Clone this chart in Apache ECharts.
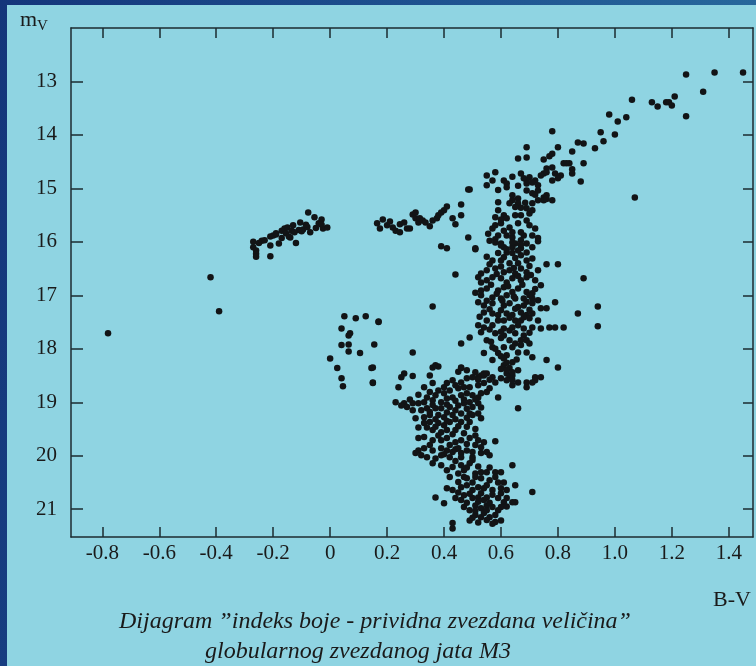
<!DOCTYPE html>
<html><head><meta charset="utf-8">
<script src="https://cdn.jsdelivr.net/npm/echarts@6/dist/echarts.min.js"></script>
<style>
html,body{margin:0;padding:0;width:756px;height:666px;overflow:hidden;}
body{background:linear-gradient(100deg,#14357a 0%,#1d4f8e 45%,#2b6fa0 100%);position:relative;}
#panel{position:absolute;left:7px;top:5px;width:749px;height:661px;background:#8fd4e2;}
#chart{position:absolute;left:0;top:0;width:756px;height:666px;}
</style></head><body><div id="panel"></div><div id="chart"></div>
<script>
// tick labels
const xTicks = [-0.8, -0.6, -0.4, -0.2, 0, 0.2, 0.4, 0.6, 0.8, 1.0, 1.2, 1.4];
const yTicks = [13, 14, 15, 16, 17, 18, 19, 20, 21];

// [B-V, m_V]
const blueHB = [[-0.27,16.0],[-0.27,16.1],[-0.26,16.16],[-0.26,16.22],[-0.26,16.28],[-0.25,16.02],[-0.24,15.98],[-0.23,15.97],[-0.21,16.07],[-0.21,15.9],[-0.21,16.27],[-0.2,15.88],[-0.19,15.86],[-0.19,15.84],[-0.17,15.93],[-0.17,15.79],[-0.16,15.75],[-0.155,15.84],[-0.15,15.73],[-0.14,15.92],[-0.135,15.79],[-0.13,15.69],[-0.12,16.02],[-0.11,15.78],[-0.105,15.64],[-0.095,15.77],[-0.08,15.72],[-0.077,15.45],[-0.07,15.82],[-0.055,15.54],[-0.05,15.74],[-0.04,15.65],[-0.03,15.58],[-0.025,15.75],[-0.01,15.73],[-0.18,16.03],[-0.145,15.9],[-0.125,15.82],[-0.1,15.8],[-0.085,15.68],[-0.03,15.68]];

const redHB = [[0.165,15.65],[0.175,15.75],[0.185,15.58],[0.2,15.69],[0.21,15.62],[0.22,15.73],[0.23,15.79],[0.245,15.82],[0.245,15.67],[0.26,15.64],[0.27,15.75],[0.28,15.75],[0.29,15.49],[0.3,15.45],[0.3,15.56],[0.31,15.64],[0.315,15.56],[0.325,15.6],[0.335,15.64],[0.35,15.71],[0.36,15.6],[0.375,15.56],[0.38,15.5],[0.39,15.45],[0.4,15.41],[0.41,15.34],[0.43,15.56],[0.44,15.67],[0.46,15.3],[0.46,15.5],[0.485,15.02],[0.485,15.92],[0.39,16.08],[0.41,16.12],[0.51,16.12],[0.44,16.61],[0.36,17.21],[0.17,17.5]];

const gapStars = [[0.05,17.39],[0.09,17.43],[0.125,17.39],[0.17,17.49],[0.04,17.62],[0.07,17.71],[0.065,17.75],[0.04,17.93],[0.065,17.92],[0.065,18.05],[0.105,18.08],[0.155,17.92],[0.0,18.18],[0.025,18.36],[0.04,18.55],[0.045,18.7],[0.145,18.36],[0.15,18.63],[-0.78,17.71],[-0.42,16.66],[-0.39,17.3]];

const giantTip = [[1.25,12.87],[1.35,12.83],[1.45,12.83],[1.31,13.19],[1.13,13.39],[1.15,13.47],[1.18,13.39],[1.19,13.39],[1.2,13.45],[1.21,13.28],[1.06,13.34],[1.25,13.65],[0.98,13.62],[1.01,13.75],[1.04,13.67],[0.95,13.95],[1.0,13.99],[0.96,14.12],[1.07,15.17]];

const upperGiants = [[0.78,13.93],[0.69,14.23],[0.66,14.44],[0.69,14.42],[0.75,14.46],[0.77,14.4],[0.78,14.35],[0.8,14.23],[0.85,14.31],[0.87,14.14],[0.89,14.16],[0.93,14.25],[0.89,14.53],[0.82,14.53],[0.84,14.53],[0.85,14.64],[0.85,14.72],[0.88,14.87],[0.76,14.63],[0.78,14.61],[0.75,14.72],[0.76,14.7],[0.79,14.72],[0.81,14.76],[0.8,14.81],[0.78,14.85],[0.74,14.76],[0.72,14.85],[0.7,14.79],[0.69,14.85],[0.67,14.72],[0.68,14.81],[0.69,14.91],[0.71,14.89],[0.73,14.94],[0.58,14.7],[0.55,14.76],[0.57,14.85],[0.55,14.94],[0.61,14.85],[0.62,14.91],[0.64,14.78],[0.49,15.02],[0.69,15.04],[0.71,15.09],[0.73,15.04],[0.75,15.17],[0.76,15.13],[0.75,15.22],[0.76,15.2],[0.78,15.22],[0.73,15.22],[0.71,15.28],[0.69,15.37],[0.7,15.47],[0.64,15.13],[0.66,15.19],[0.64,15.22],[0.63,15.28],[0.66,15.28],[0.67,15.36],[0.59,15.26],[0.59,15.41],[0.61,15.5],[0.58,15.54],[0.62,15.56],[0.65,15.5],[0.67,15.5],[0.69,15.6],[0.71,15.41],[0.7,15.69],[0.72,15.75],[0.58,15.69],[0.6,15.65],[0.57,15.75],[0.61,15.79],[0.63,15.73],[0.66,15.65],[0.67,15.82],[0.68,15.88],[0.71,15.88],[0.73,15.93],[0.59,15.88],[0.62,15.88],[0.64,15.92],[0.65,16.03],[0.67,15.97],[0.69,16.03],[0.6,16.03],[0.58,15.95],[0.61,16.1],[0.64,16.1],[0.67,16.12],[0.83,14.53],[0.555,15.85],[0.64,15.82],[0.6,15.58],[0.65,15.35],[0.685,15.27],[0.72,15.12],[0.62,14.98],[0.66,14.95],[0.59,15.03]];

const lowerGiants = [[0.51,16.14],[0.58,16.01],[0.6,16.07],[0.64,16.01],[0.67,16.05],[0.73,15.99],[0.59,16.21],[0.62,16.2],[0.64,16.21],[0.67,16.25],[0.69,16.2],[0.57,16.35],[0.6,16.35],[0.63,16.4],[0.66,16.4],[0.69,16.35],[0.71,16.31],[0.76,16.42],[0.8,16.42],[0.53,16.59],[0.55,16.53],[0.58,16.5],[0.61,16.57],[0.63,16.53],[0.65,16.59],[0.67,16.5],[0.69,16.57],[0.73,16.53],[0.53,16.76],[0.55,16.72],[0.57,16.66],[0.6,16.68],[0.62,16.76],[0.64,16.68],[0.67,16.72],[0.69,16.66],[0.72,16.72],[0.74,16.81],[0.53,16.91],[0.55,16.87],[0.59,16.91],[0.61,16.85],[0.64,16.94],[0.66,16.87],[0.69,16.94],[0.71,16.96],[0.53,17.0],[0.57,17.04],[0.6,17.06],[0.62,17.0],[0.65,17.06],[0.68,17.06],[0.71,17.06],[0.73,17.09],[0.79,17.13],[0.52,17.13],[0.54,17.19],[0.57,17.15],[0.61,17.19],[0.63,17.15],[0.66,17.22],[0.68,17.19],[0.71,17.15],[0.74,17.24],[0.76,17.24],[0.87,17.34],[0.54,17.32],[0.57,17.34],[0.59,17.37],[0.62,17.34],[0.64,17.37],[0.67,17.32],[0.69,17.37],[0.71,17.34],[0.55,17.47],[0.59,17.47],[0.61,17.47],[0.65,17.47],[0.67,17.47],[0.7,17.43],[0.73,17.47],[0.52,17.56],[0.54,17.6],[0.57,17.56],[0.61,17.62],[0.64,17.6],[0.66,17.56],[0.68,17.62],[0.71,17.6],[0.74,17.62],[0.77,17.6],[0.79,17.6],[0.82,17.6],[0.53,17.69],[0.58,17.71],[0.61,17.75],[0.65,17.71],[0.68,17.75],[0.49,17.79],[0.55,17.84],[0.6,17.8],[0.63,17.84],[0.67,17.84],[0.69,17.84],[0.46,17.9],[0.57,17.97],[0.61,17.97],[0.64,17.97],[0.67,17.93],[0.7,17.9],[0.54,18.08],[0.59,18.08],[0.62,18.12],[0.66,18.07],[0.69,18.07],[0.71,18.16],[0.57,18.21],[0.61,18.18],[0.64,18.25],[0.76,18.21],[0.46,18.35],[0.61,18.31],[0.63,18.36],[0.8,18.35],[0.62,18.46],[0.64,18.5],[0.52,18.53],[0.54,18.5],[0.72,18.53],[0.74,18.53],[0.89,16.68],[0.94,17.21],[0.94,17.58],
  [0.56,15.98],[0.62,16.14],[0.66,16.16],[0.71,16.1],[0.55,16.28],[0.61,16.29],[0.65,16.3],[0.7,16.45],[0.56,16.42],[0.6,16.46],[0.645,16.49],[0.52,16.66],[0.585,16.6],[0.66,16.64],[0.705,16.62],[0.565,16.8],[0.625,16.83],[0.675,16.8],[0.72,16.88],[0.51,16.95],[0.585,16.97],[0.645,17.02],[0.7,17.0],[0.55,17.1],[0.605,17.1],[0.69,17.12],[0.56,17.26],[0.6,17.28],[0.65,17.25],[0.7,17.27],[0.525,17.4],[0.63,17.42],[0.68,17.41],[0.56,17.64],[0.6,17.68],[0.63,17.66],[0.7,17.7],[0.565,17.87],[0.65,17.9],[0.58,18.0],[0.6,18.14],[0.655,18.2],[0.62,18.26],[0.6,18.38],[0.66,18.4],[0.63,18.52]];

const subGiants = [[0.15,18.35],[0.15,18.64],[0.26,18.46],[0.25,18.53],[0.29,18.51],[0.24,18.72],[0.36,18.35],[0.38,18.33],[0.46,18.36],[0.35,18.5],[0.36,18.64],[0.41,18.64],[0.43,18.59],[0.46,18.63],[0.48,18.55],[0.5,18.53],[0.53,18.5],[0.54,18.46],[0.35,18.81],[0.38,18.78],[0.4,18.83],[0.42,18.78],[0.45,18.74],[0.47,18.72],[0.49,18.72],[0.52,18.68],[0.54,18.64],[0.26,19.02],[0.27,19.09],[0.29,19.15],[0.31,19.02],[0.33,19.0],[0.34,18.91],[0.36,18.96],[0.39,19.0],[0.41,18.93],[0.43,18.91],[0.46,18.87],[0.48,18.83],[0.5,18.87],[0.53,18.83],[0.55,18.81],[0.32,19.15],[0.34,19.11],[0.37,19.11],[0.39,19.11],[0.42,19.09],[0.45,19.06],[0.47,19.02],[0.49,19.0],[0.52,19.02],[0.33,19.28],[0.35,19.24],[0.38,19.24],[0.4,19.28],[0.43,19.24],[0.46,19.21],[0.49,19.21],[0.52,19.21],[0.5,19.09],[0.31,19.47],[0.33,19.39],[0.35,19.37],[0.38,19.39],[0.4,19.43],[0.42,19.37],[0.46,19.37],[0.33,19.65],[0.36,19.52],[0.39,19.56],[0.41,19.52],[0.44,19.52],[0.49,19.37],[0.49,19.67],[0.52,19.71],[0.54,19.75],[0.36,19.71],[0.39,19.71],[0.41,19.67],[0.44,19.75],[0.46,19.71],[0.31,19.9],[0.32,19.99],[0.34,20.03],[0.36,19.9],[0.39,19.86],[0.41,19.9],[0.43,19.93],[0.46,19.95],[0.48,19.9],[0.5,19.93],[0.53,19.95],[0.55,19.93],[0.51,19.8],[0.33,19.86],[0.55,18.46],[0.57,18.53],[0.58,18.63],[0.56,18.74],[0.52,18.91],[0.62,18.4],[0.64,18.44],[0.62,18.59],[0.64,18.68],[0.64,18.59],[0.66,18.63],[0.69,18.63],[0.69,18.72],[0.72,18.59],[0.59,18.91],[0.66,19.11],[0.5,19.24],[0.53,19.3],[0.58,19.73],[0.53,19.84],[0.5,20.03],[0.56,19.99],[0.29,18.07],[0.37,18.31],[0.51,18.44],[0.71,18.63],[0.25,19.06],[0.29,19.02],[0.3,19.3],[0.34,19.47],[0.31,19.67],[0.3,19.95],[0.37,20.05],
  [0.45,18.43],[0.48,18.4],[0.52,18.58],[0.44,18.68],[0.4,18.72],[0.37,18.87],[0.44,18.97],[0.47,18.95],[0.51,18.95],[0.41,19.04],[0.36,19.05],[0.44,19.15],[0.48,19.12],[0.53,19.1],[0.35,19.18],[0.41,19.19],[0.44,19.32],[0.48,19.29],[0.37,19.32],[0.41,19.35],[0.45,19.45],[0.48,19.46],[0.51,19.5],[0.37,19.46],[0.43,19.6],[0.47,19.58],[0.51,19.62],[0.38,19.62],[0.35,19.8],[0.42,19.8],[0.48,19.78],[0.44,19.88],[0.4,19.97],[0.5,20.08],[0.33,18.72],[0.31,18.86],[0.28,18.95],[0.23,19.0],[0.56,18.58],[0.6,18.55]];

const mainSeq = [[0.39,19.99],[0.42,20.03],[0.45,19.86],[0.46,20.03],[0.36,20.14],[0.39,20.18],[0.41,20.27],[0.43,20.21],[0.46,20.18],[0.47,20.27],[0.49,20.14],[0.51,20.33],[0.53,20.31],[0.55,20.31],[0.58,20.31],[0.6,20.31],[0.64,20.18],[0.42,20.4],[0.45,20.33],[0.47,20.4],[0.48,20.42],[0.5,20.5],[0.53,20.42],[0.56,20.46],[0.59,20.5],[0.41,20.61],[0.43,20.64],[0.46,20.59],[0.48,20.55],[0.5,20.64],[0.52,20.59],[0.54,20.61],[0.57,20.64],[0.6,20.61],[0.62,20.64],[0.65,20.55],[0.71,20.68],[0.37,20.78],[0.4,20.89],[0.44,20.79],[0.46,20.83],[0.47,20.74],[0.5,20.79],[0.52,20.78],[0.54,20.83],[0.55,20.78],[0.59,20.79],[0.61,20.87],[0.62,20.79],[0.65,20.87],[0.47,20.96],[0.49,21.02],[0.51,20.93],[0.53,20.98],[0.55,20.93],[0.57,20.96],[0.6,20.96],[0.49,21.21],[0.51,21.11],[0.53,21.15],[0.54,21.07],[0.56,21.15],[0.58,21.11],[0.6,21.21],[0.58,21.24],[0.43,21.26],[0.43,21.36],[0.64,20.87],
  [0.44,20.1],[0.48,20.22],[0.52,20.2],[0.56,20.22],[0.45,20.49],[0.51,20.4],[0.55,20.55],[0.58,20.4],[0.61,20.5],[0.45,20.69],[0.49,20.71],[0.53,20.7],[0.57,20.73],[0.6,20.7],[0.48,20.88],[0.52,20.86],[0.56,20.88],[0.59,21.02],[0.51,21.03],[0.55,21.02],[0.62,20.95],[0.5,21.16],[0.55,21.2],[0.57,21.27],[0.52,21.25]];

const allStars = [].concat(blueHB, redHB, gapStars, giantTip, upperGiants, lowerGiants, subGiants, mainSeq);

const chart = echarts.init(document.getElementById('chart'), null, {renderer: 'canvas'});
const axisColor = '#1d2b31';
const serif = '"Liberation Serif", "DejaVu Serif", serif';
const xMin = -0.91, xMax = 1.485, yMin = 12.0, yMax = 21.52;
const lineStyle = {color: axisColor, width: 1.5};
function xFmt(v){ return v === 0 ? '0' : v.toFixed(1); }

chart.setOption({
  animation: false,
  grid: {left: 71, right: 3, top: 28, bottom: 129},
  xAxis: [
    {type: 'value', min: xMin, max: xMax, position: 'bottom',
     axisLine: {show: true, onZero: false, lineStyle},
     axisTick: {show: true, inside: true, length: 10, customValues: xTicks, lineStyle},
     axisLabel: {show: true, customValues: xTicks, formatter: xFmt, fontFamily: serif, fontSize: 21, color: '#1a1a1a', margin: 6},
     splitLine: {show: false}},
    {type: 'value', min: xMin, max: xMax, position: 'top',
     axisLine: {show: true, onZero: false, lineStyle},
     axisTick: {show: true, inside: true, length: 10, customValues: xTicks, lineStyle},
     axisLabel: {show: false},
     splitLine: {show: false}}
  ],
  yAxis: [
    {type: 'value', min: yMin, max: yMax, inverse: true, position: 'left',
     axisLine: {show: true, onZero: false, lineStyle},
     axisTick: {show: true, inside: true, length: 12, customValues: yTicks, lineStyle},
     axisLabel: {show: true, customValues: yTicks, fontFamily: serif, fontSize: 21, color: '#1a1a1a', margin: 14},
     splitLine: {show: false}},
    {type: 'value', min: yMin, max: yMax, inverse: true, position: 'right',
     axisLine: {show: true, onZero: false, lineStyle},
     axisTick: {show: true, inside: true, length: 10, customValues: yTicks, lineStyle},
     axisLabel: {show: false},
     splitLine: {show: false}}
  ],
  graphic: [
    {type: 'text', left: 20, top: 9, style: {text: 'm', font: '22px ' + serif, fill: '#1a1a1a'}},
    {type: 'text', left: 37, top: 19, style: {text: 'V', font: '15px ' + serif, fill: '#1a1a1a'}},
    {type: 'text', left: 713, top: 589, style: {text: 'B-V', font: '22px ' + serif, fill: '#1a1a1a'}},
    {type: 'text', x: 375, y: 622, style: {text: 'Dijagram \u201dindeks boje - prividna zvezdana veli\u010dina\u201d', font: 'italic 24px ' + serif, fill: '#1a1a1a', align: 'center', verticalAlign: 'middle'}},
    {type: 'text', x: 358, y: 652, style: {text: 'globularnog zvezdanog jata M3', font: 'italic 24px ' + serif, fill: '#1a1a1a', align: 'center', verticalAlign: 'middle'}}
  ],
  series: [{
    type: 'scatter', xAxisIndex: 0, yAxisIndex: 0,
    data: allStars, symbol: 'circle', symbolSize: 6.5,
    itemStyle: {color: '#121416', opacity: 1},
    emphasis: {disabled: true}, silent: true
  }]
});
</script></body></html>
